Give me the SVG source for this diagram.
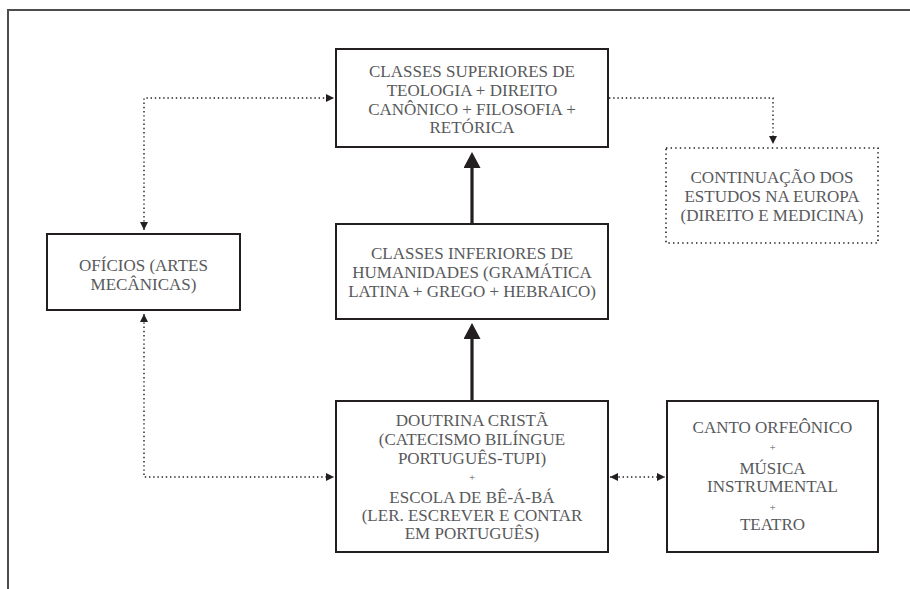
<svg xmlns="http://www.w3.org/2000/svg" width="910" height="589" viewBox="0 0 910 589">
<style>
.box{fill:#fff;stroke:#231f20;stroke-width:2}
.dbox{fill:#fff;stroke:#231f20;stroke-width:1.6;stroke-dasharray:1.4 3.2}
.t{font-family:"Liberation Serif","Times New Roman",serif;font-size:17px;fill:#58595b;text-anchor:middle}
.p{font-family:"Liberation Serif","Times New Roman",serif;font-size:11px;fill:#58595b;text-anchor:middle}
.dot{fill:none;stroke:#231f20;stroke-width:1.4;stroke-dasharray:1.4 2.8}
.thick{fill:none;stroke:#231f20;stroke-width:3.2}
.frame{fill:none;stroke:#4d4d4d;stroke-width:2}
</style>
<defs>
<marker id="sa" viewBox="0 0 8 8" refX="8" refY="4" markerWidth="8" markerHeight="8" markerUnits="userSpaceOnUse" orient="auto-start-reverse">
<path d="M0,0 L8,4 L0,8 z" fill="#231f20" stroke="none"/>
</marker>
<marker id="ba" viewBox="0 0 16 17" refX="2" refY="8.5" markerWidth="16" markerHeight="17" markerUnits="userSpaceOnUse" orient="auto">
<path d="M0,0 L16,8.5 L0,17 z" fill="#231f20" stroke="none"/>
</marker>
</defs>
<path class="frame" d="M7,10 H910 M8,10 V589"/>
<g id="connectors">
<path class="dot" d="M144,230 V98 H334" marker-start="url(#sa)" marker-end="url(#sa)"/>
<path class="dot" d="M609,98 H773 V144" marker-end="url(#sa)"/>
<path class="dot" d="M144,314 V477 H334" marker-start="url(#sa)" marker-end="url(#sa)"/>
<path class="dot" d="M610,477 H665" marker-start="url(#sa)" marker-end="url(#sa)"/>
<path class="thick" d="M472,224 V166" marker-end="url(#ba)"/>
<path class="thick" d="M472,400 V337" marker-end="url(#ba)"/>
</g>
<g id="n-superiores">
<rect class="box" x="336" y="49" width="272" height="98"/>
<text class="t" x="472" y="77">CLASSES SUPERIORES DE</text>
<text class="t" x="472" y="96">TEOLOGIA + DIREITO</text>
<text class="t" x="472" y="115">CANÔNICO + FILOSOFIA +</text>
<text class="t" x="472" y="133">RETÓRICA</text>
</g>
<g id="n-continuacao">
<rect class="dbox" x="666" y="148" width="212" height="95"/>
<text class="t" x="772" y="183">CONTINUAÇÃO DOS</text>
<text class="t" x="772" y="202">ESTUDOS NA EUROPA</text>
<text class="t" x="772" y="221">(DIREITO E MEDICINA)</text>
</g>
<g id="n-oficios">
<rect class="box" x="47" y="234" width="193" height="76"/>
<text class="t" x="143.5" y="270.5">OFÍCIOS (ARTES</text>
<text class="t" x="143.5" y="289.5">MECÂNICAS)</text>
</g>
<g id="n-inferiores">
<rect class="box" x="336" y="224" width="272" height="95"/>
<text class="t" x="472" y="258.5">CLASSES INFERIORES DE</text>
<text class="t" x="472" y="277.5">HUMANIDADES (GRAMÁTICA</text>
<text class="t" x="472" y="297">LATINA + GREGO + HEBRAICO)</text>
</g>
<g id="n-doutrina">
<rect class="box" x="336" y="401" width="272" height="151"/>
<text class="t" x="472" y="426">DOUTRINA CRISTÃ</text>
<text class="t" x="472" y="445">(CATECISMO BILÍNGUE</text>
<text class="t" x="472" y="464">PORTUGUÊS-TUPI)</text>
<text class="p" x="472" y="481">+</text>
<text class="t" x="472" y="503">ESCOLA DE BÊ-Á-BÁ</text>
<text class="t" x="472" y="521">(LER. ESCREVER E CONTAR</text>
<text class="t" x="472" y="539">EM PORTUGUÊS)</text>
</g>
<g id="n-canto">
<rect class="box" x="667" y="401" width="211" height="151"/>
<text class="t" x="772.5" y="433">CANTO ORFEÔNICO</text>
<text class="p" x="772.5" y="451">+</text>
<text class="t" x="772.5" y="474">MÚSICA</text>
<text class="t" x="772.5" y="492">INSTRUMENTAL</text>
<text class="p" x="772.5" y="511">+</text>
<text class="t" x="772.5" y="530">TEATRO</text>
</g>
</svg>
